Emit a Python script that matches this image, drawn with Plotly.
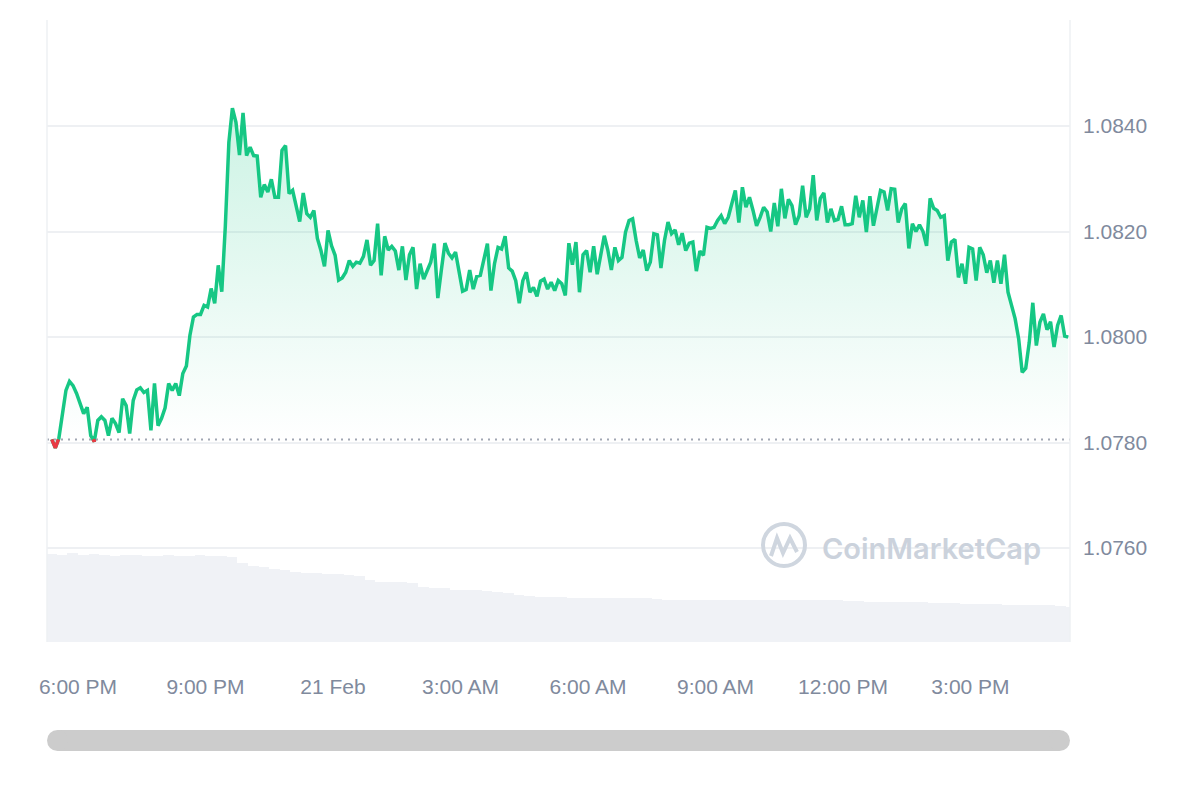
import pandas as pd
import plotly.graph_objects as go

# ---------------- data ----------------
start_time = "2024-02-20 17:23"
interval = "5min"
prices = [
    1.07806, 1.07790, 1.07808, 1.07857, 1.07899, 1.07916, 1.07908, 1.07893, 1.07874, 1.07855,
    1.07867, 1.07813, 1.07802, 1.07842, 1.07849, 1.07842, 1.07813, 1.07846, 1.07836, 1.07819,
    1.07883, 1.07870, 1.07817, 1.07880, 1.07900, 1.07904, 1.07895, 1.07899, 1.07823, 1.07912,
    1.07832, 1.07846, 1.07866, 1.07912, 1.07899, 1.07912, 1.07889, 1.07931, 1.07945, 1.08003,
    1.08038, 1.08043, 1.08043, 1.08060, 1.08057, 1.08092, 1.08064, 1.08136, 1.08086, 1.08210,
    1.08369, 1.08434, 1.08407, 1.08345, 1.08425, 1.08344, 1.08360, 1.08344, 1.08343, 1.08265,
    1.08289, 1.08275, 1.08299, 1.08265, 1.08265, 1.08354, 1.08363, 1.08272, 1.08278, 1.08249,
    1.08219, 1.08273, 1.08234, 1.08227, 1.08240, 1.08187, 1.08164, 1.08134, 1.08202, 1.08173,
    1.08155, 1.08108, 1.08112, 1.08123, 1.08145, 1.08134, 1.08142, 1.08140, 1.08153, 1.08184,
    1.08136, 1.08145, 1.08215, 1.08117, 1.08191, 1.08165, 1.08172, 1.08163, 1.08127, 1.08172,
    1.08108, 1.08156, 1.08170, 1.08091, 1.08139, 1.08110, 1.08126, 1.08142, 1.08177, 1.08074,
    1.08127, 1.08178, 1.08159, 1.08150, 1.08161, 1.08120, 1.08087, 1.08090, 1.08127, 1.08091,
    1.08115, 1.08117, 1.08145, 1.08177, 1.08088, 1.08139, 1.08170, 1.08167, 1.08191, 1.08131,
    1.08125, 1.08107, 1.08064, 1.08107, 1.08123, 1.08085, 1.08094, 1.08077, 1.08106, 1.08110,
    1.08091, 1.08104, 1.08088, 1.08107, 1.08101, 1.08079, 1.08178, 1.08137, 1.08180, 1.08085,
    1.08156, 1.08164, 1.08123, 1.08172, 1.08119, 1.08159, 1.08192, 1.08165, 1.08127, 1.08170,
    1.08145, 1.08151, 1.08199, 1.08221, 1.08224, 1.08183, 1.08150, 1.08165, 1.08126, 1.08142,
    1.08196, 1.08194, 1.08131, 1.08183, 1.08218, 1.08196, 1.08203, 1.08175, 1.08197, 1.08164,
    1.08178, 1.08180, 1.08125, 1.08163, 1.08155, 1.08208, 1.08206, 1.08208, 1.08221, 1.08230,
    1.08215, 1.08227, 1.08256, 1.08278, 1.08217, 1.08284, 1.08246, 1.08265, 1.08240, 1.08211,
    1.08227, 1.08246, 1.08237, 1.08200, 1.08254, 1.08210, 1.08281, 1.08225, 1.08261, 1.08249,
    1.08213, 1.08230, 1.08287, 1.08227, 1.08243, 1.08307, 1.08221, 1.08263, 1.08273, 1.08217,
    1.08243, 1.08221, 1.08223, 1.08248, 1.08213, 1.08213, 1.08215, 1.08268, 1.08227, 1.08259,
    1.08199, 1.08267, 1.08211, 1.08246, 1.08278, 1.08275, 1.08240, 1.08281, 1.08280, 1.08217,
    1.08243, 1.08253, 1.08168, 1.08215, 1.08200, 1.08213, 1.08200, 1.08173, 1.08263, 1.08244,
    1.08240, 1.08227, 1.08230, 1.08145, 1.08180, 1.08185, 1.08113, 1.08139, 1.08101, 1.08170,
    1.08167, 1.08107, 1.08170, 1.08156, 1.08122, 1.08145, 1.08103, 1.08145, 1.08101, 1.08156,
    1.08085, 1.08060, 1.08035, 1.07997, 1.07933, 1.07941, 1.07990, 1.08065, 1.07984, 1.08028,
    1.08044, 1.08014, 1.08029, 1.07981, 1.08022, 1.08041, 1.08002, 1.08000,
]

volume_start = "2024-02-20 17:15"
volume_interval = "15min"
volumes = [
    0.99, 0.98, 1.00, 0.98, 0.99, 0.98, 0.97, 0.98, 0.98, 0.97,
    0.97, 0.98, 0.97, 0.97, 0.98, 0.97, 0.97, 0.96, 0.89, 0.86,
    0.84, 0.82, 0.81, 0.79, 0.78, 0.78, 0.77, 0.76, 0.75, 0.74,
    0.70, 0.68, 0.67, 0.67, 0.66, 0.62, 0.61, 0.61, 0.59, 0.58,
    0.58, 0.57, 0.56, 0.55, 0.53, 0.52, 0.51, 0.51, 0.51, 0.50,
    0.50, 0.50, 0.50, 0.50, 0.49, 0.49, 0.49, 0.48, 0.47, 0.47,
    0.47, 0.47, 0.47, 0.47, 0.47, 0.47, 0.47, 0.47, 0.47, 0.47,
    0.47, 0.47, 0.47, 0.47, 0.47, 0.46, 0.46, 0.45, 0.45, 0.45,
    0.45, 0.45, 0.45, 0.44, 0.44, 0.44, 0.43, 0.43, 0.43, 0.43,
    0.42, 0.42, 0.42, 0.42, 0.42, 0.41, 0.39,
]

x_tick_times = ["2024-02-20 18:00", "2024-02-20 21:00", "2024-02-21 00:00", "2024-02-21 03:00",
                "2024-02-21 06:00", "2024-02-21 09:00", "2024-02-21 12:00", "2024-02-21 15:00"]
x_tick_labels = ["6:00 PM", "9:00 PM", "21 Feb", "3:00 AM", "6:00 AM", "9:00 AM", "12:00 PM", "3:00 PM"]
y_tick_values = [1.0760, 1.0780, 1.0800, 1.0820, 1.0840]
y_tick_labels = ["1.0760", "1.0780", "1.0800", "1.0820", "1.0840"]

# ---------------- derived ----------------
times = list(pd.date_range(start_time, periods=len(prices), freq=interval))
vol_times = list(pd.date_range(volume_start, periods=len(volumes), freq=volume_interval)
                 + pd.Timedelta("7min30s"))
base = prices[0]

GREEN = "#16c784"
RED = "#ea3943"
LABEL = "#808a9d"
GRID = "#eef0f3"

# segments below the opening price (drawn red)
rx, ry = [], []
for i in range(len(prices)):
    below = prices[i] < base
    if i > 0 and below != (prices[i - 1] < base):
        f = (base - prices[i - 1]) / (prices[i] - prices[i - 1])
        tc = times[i - 1] + (times[i] - times[i - 1]) * f
        rx.append(tc)
        ry.append(base)
        if not below:
            rx.append(None)
            ry.append(None)
    if below:
        rx.append(times[i])
        ry.append(prices[i])

fig = go.Figure()

fig.add_trace(go.Bar(
    x=vol_times, y=volumes, yaxis="y2",
    marker=dict(color="#f0f2f6", line=dict(width=0)),
    width=15 * 60 * 1000, hoverinfo="skip",
))

fig.add_trace(go.Scatter(
    x=times, y=[base] * len(times), mode="lines",
    line=dict(width=0, color="rgba(0,0,0,0)"), hoverinfo="skip",
))
fig.add_trace(go.Scatter(
    x=times, y=prices, mode="lines",
    line=dict(color=GREEN, width=3.5),
    fill="tonexty",
    fillgradient=dict(
        type="vertical",
        start=base, stop=max(prices),
        colorscale=[[0, "rgba(22,199,132,0)"], [1, "rgba(22,199,132,0.22)"]],
    ),
))
fig.add_trace(go.Scatter(
    x=rx, y=ry, mode="lines", line=dict(color=RED, width=3.5),
    connectgaps=False, hoverinfo="skip",
))

x_range = ["2024-02-20 17:16:15", "2024-02-21 17:20:30"]

def px_x(p):
    return (p - 47) / 1023.0

def px_y(p):
    return (642 - p) / 622.0

shapes = [
    # opening price dotted line
    dict(type="line", xref="paper", x0=0, x1=1, yref="y", y0=base, y1=base,
         line=dict(color="#a1a7b3", width=2, dash="2px,5px"), layer="above"),
    # border lines
    dict(type="line", xref="paper", x0=0, x1=0, yref="paper", y0=0, y1=1,
         line=dict(color=GRID, width=1.5)),
    dict(type="line", xref="paper", x0=1, x1=1, yref="paper", y0=0, y1=1,
         line=dict(color=GRID, width=1.5)),
    # scrollbar
    dict(type="rect", xref="paper", yref="paper", x0=px_x(57.5), x1=px_x(1059.5),
         y0=px_y(751), y1=px_y(730), fillcolor="#cccccc", line=dict(width=0)),
    dict(type="circle", xref="paper", yref="paper", x0=px_x(47), x1=px_x(68),
         y0=px_y(751), y1=px_y(730), fillcolor="#cccccc", line=dict(width=0)),
    dict(type="circle", xref="paper", yref="paper", x0=px_x(1049), x1=px_x(1070),
         y0=px_y(751), y1=px_y(730), fillcolor="#cccccc", line=dict(width=0)),
    # watermark logo
    dict(type="circle", xref="paper", yref="paper", x0=px_x(763), x1=px_x(805),
         y0=px_y(566), y1=px_y(524), line=dict(color="#cfd6df", width=4)),
    dict(type="path", xref="paper", yref="paper",
         path="M {} {} L {} {} L {} {} L {} {} L {} {}".format(
             px_x(771), px_y(556), px_x(777), px_y(538), px_x(783), px_y(553),
             px_x(790), px_y(538), px_x(797), px_y(552)),
         line=dict(color="#cfd6df", width=4)),
]

fig.update_layout(
    width=1200, height=800,
    margin=dict(l=39, r=138, t=12, b=166),
    paper_bgcolor="white", plot_bgcolor="white",
    showlegend=False,
    bargap=0,
    font=dict(family="Liberation Sans, Arial, sans-serif", color=LABEL),
    xaxis=dict(
        type="date", range=x_range, showgrid=False, zeroline=False, showline=False,
        tickvals=x_tick_times, ticktext=x_tick_labels,
        tickfont=dict(size=21, color=LABEL), ticks="", ticklabelstandoff=30,
    ),
    yaxis=dict(
        side="right", range=[1.07422, 1.08601], showgrid=True, gridcolor=GRID, gridwidth=1.5,
        zeroline=False, showline=False, tickvals=y_tick_values, ticktext=y_tick_labels,
        tickfont=dict(size=21, color=LABEL), ticks="", ticklabelstandoff=12,
    ),
    yaxis2=dict(overlaying="y", range=[0, 7], visible=False),
    shapes=shapes,
    annotations=[dict(
        text="CoinMarketCap", xref="paper", yref="paper", x=px_x(820), y=px_y(548),
        xanchor="left", yanchor="middle", showarrow=False,
        font=dict(family="Inter, Open Sans, sans-serif", size=29, color="#cbd2dc", weight=600),
    )],
)

fig.write_html("out.html")
